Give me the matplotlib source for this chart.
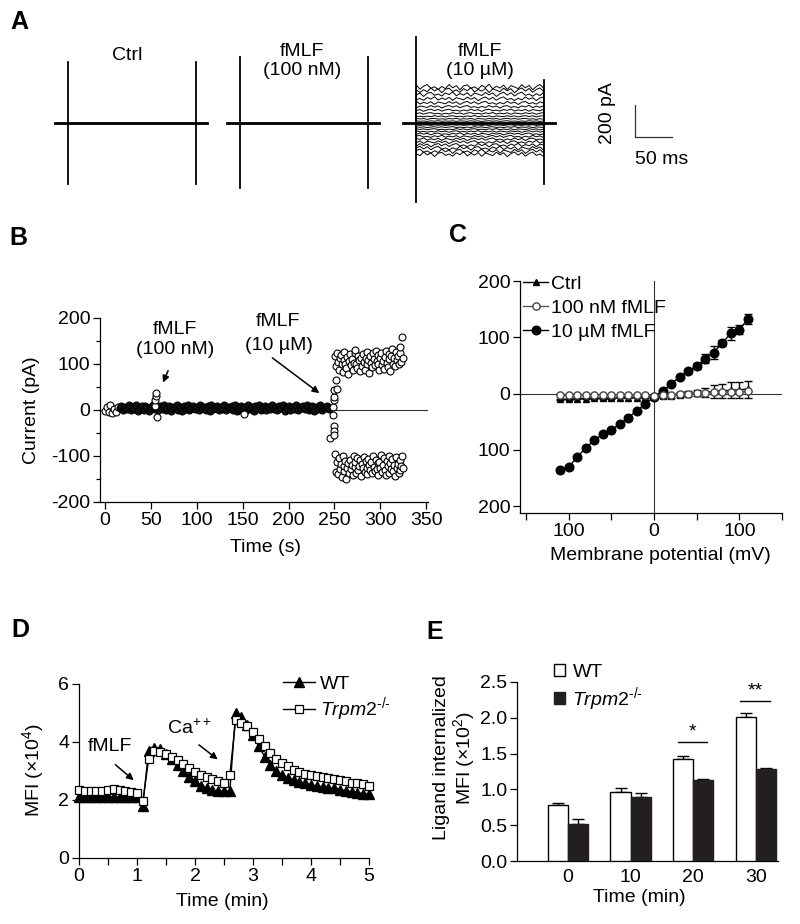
import numpy as np
import matplotlib.pyplot as plt
from matplotlib.lines import Line2D
from matplotlib.patches import Patch

plt.rcParams['font.family'] = ['Liberation Sans', 'DejaVu Sans']
plt.rcParams['mathtext.fontset'] = 'custom'
plt.rcParams['mathtext.rm'] = 'Liberation Sans'
plt.rcParams['mathtext.it'] = 'Liberation Sans:italic'
plt.rcParams['font.size'] = 14
plt.rcParams['axes.linewidth'] = 0.9
plt.rcParams['axes.unicode_minus'] = False

# ---------------- data ----------------
# A: whole-cell current traces (pA), voltage step
a_titles = ['Ctrl', 'fMLF\n(100 nM)', 'fMLF\n(10 µM)']
a_on_spike = [(381, -381), (412, -406), (537, -494)]
a_off_spike = [(381, -381), (412, -406), (269, -381)]
a_sweeps = [-195, -176, -157, -138, -119, -101, -84, -68, -53, -39, -26, -13, 0,
            12, 26, 42, 60, 80, 102, 126, 152, 180, 205, 225]
a_wiggle = [0.2, -0.6, 0.9, -0.3, 0.5, -1.0, 0.4, 0.8, -0.5, 0.1, -0.8, 0.6, -0.2, 1.0,
            -0.7, 0.3, -0.4, 0.7, -0.9, 0.5, 0.0, -0.6, 0.8, -0.3, 0.6, -1.0, 0.2, 0.9,
            -0.4, 0.7, -0.8, 0.3, 0.9, -0.5, 0.1, -0.9]

# B: current vs time (pA)
b_early_v = [-3, 6, -5, 10, -6, 3, -4, 7]
b_base_v = [4, 9, -1, 7, 2, 10, 0, 6, 3, 11, -2, 5, 8, 1, 9, 4, -3, 7, 10, 2,
            6, -1, 8, 3, 11, 0, 5, 9, -2, 7, 4, 10, 1, 6, -3, 8, 3, 11, 0, 5,
            9, 2, 7, -1, 10, 4, 6, 1, 8, -2, 11, 3, 5, 9, 0, 7, 2, 10, -1, 6,
            4, 8, 1, 11, -3, 5, 9, 2, 7, 0, 10, 3, 6, -2, 8, 4, 11, 1, 5, 9,
            -1, 7, 2, 10, 3, 6, 0, 8, 4, 11, -2, 5, 9, 1, 7, 3, 10, -1, 6, 4,
            8, 2, 11, 0, 5, 9, -3, 7, 3, 10, 1, 6, 4, 8, 2]
b_early_t = np.arange(0, 2 * len(b_early_v), 2)
b_base_t = np.arange(2 * len(b_early_v), 2 * (len(b_early_v) + len(b_base_v)), 2)
b_out_t = [54, 55, 56, 56, 57, 152]
b_out_v = [8, 22, 30, 37, -15, -9]
b_tr_t = [245, 248, 248.5, 249.5, 249.5, 249.5, 249.5, 250, 250, 252, 253]
b_tr_v = [-61, 7, -11, 22, -35, -45, -54, 29, 43, 65, 45]
b_up_v = [118, 95, 125, 104, 88, 112, 120, 99, 83, 108, 126, 101, 92, 115, 78, 106, 121, 97, 110, 86,
          103, 124, 131, 100, 91, 117, 108, 84, 112, 96, 122, 105, 88, 114, 127, 99, 109, 80, 118, 102,
          93, 124, 111, 97, 128, 106, 119, 101, 87, 113, 125, 98, 107, 90, 116, 129, 103, 94, 121, 110,
          85, 118, 132, 100, 112, 95, 126, 108, 117, 99, 123, 136, 104, 158, 112]
b_lo_v = [-95, -135, -112, -140, -104, -128, -118, -145, -101, -132, -122, -110, -150, -126, -115,
          -138, -108, -129, -119, -141, -99, -124, -113, -136, -105, -131, -121, -109, -143, -117,
          -127, -102, -134, -111, -125, -139, -106, -120, -130, -114, -137, -100, -123, -133, -108,
          -128, -116, -141, -112, -126, -97, -135, -119, -104, -130, -142, -110, -122, -101, -137,
          -115, -128, -106, -133, -120, -144, -103, -125, -117, -138, -109, -131, -121, -99, -127]
b_band_t = np.arange(251, 251 + len(b_up_v))

# C: I-V relation
c_mv = np.arange(-110, 111, 10)
c_ctrl = [-10, -10, -9, -9, -8, -8, -8, -7, -7, -7, -6, -6, -5, -4, -2, 0, 1, 2, 4, 5, 6, 7, 8]
c_ctrl_err = [1, 1, 1, 1, 1, 1, 1, 1, 1, 1, 1, 1, 2, 3, 4, 5, 6, 8, 12, 12, 14, 14, 15]
c_100nm = [-3, -3, -2, -2, -2, -2, -2, -2, -2, -3, -3, -4, -3, -2, -1, 0, 1, 1, 2, 2, 3, 3, 4]
c_10um = [-135, -130, -113, -96, -83, -72, -64, -54, -43, -30, -18, -6, 5, 17, 30, 40, 49,
          62, 73, 90, 107, 113, 133]
c_10um_err = [3, 3, 3, 3, 3, 3, 3, 3, 3, 3, 3, 3, 3, 3, 3, 4, 5, 8, 12, 6, 12, 8, 9]

# D: MFI (x10^4) over time
d_time = np.linspace(0, 5, 51)
d_wt = [2.1, 2.1, 2.12, 2.12, 2.12, 2.12, 2.1, 2.1, 2.1, 2.1, 2.1, 1.8, 3.7, 3.8, 3.75,
        3.6, 3.4, 3.2, 3.0, 2.8, 2.65, 2.5, 2.4, 2.35, 2.3, 2.3, 2.3, 5.0, 4.85, 4.6, 4.25,
        3.85, 3.5, 3.2, 3.0, 2.85, 2.75, 2.68, 2.62, 2.57, 2.52, 2.48, 2.45, 2.42, 2.4,
        2.36, 2.32, 2.28, 2.25, 2.22, 2.2]
d_ko = [2.35, 2.32, 2.32, 2.32, 2.32, 2.35, 2.38, 2.33, 2.3, 2.27, 2.25, 1.95, 3.4, 3.7,
        3.65, 3.58, 3.5, 3.38, 3.25, 3.1, 2.95, 2.85, 2.78, 2.72, 2.65, 2.6, 2.85, 4.75,
        4.65, 4.55, 4.35, 4.1, 3.85, 3.62, 3.42, 3.28, 3.16, 3.05, 2.97, 2.9, 2.85, 2.82,
        2.78, 2.75, 2.72, 2.68, 2.64, 2.6, 2.57, 2.54, 2.5]

# E: ligand internalized MFI (x10^2)
e_times = ['0', '10', '20', '30']
e_wt = [0.78, 0.96, 1.42, 2.01]
e_wt_err = [0.03, 0.06, 0.04, 0.06]
e_ko = [0.51, 0.90, 1.13, 1.28]
e_ko_err = [0.07, 0.05, 0.01, 0.02]
e_sig = ['', '', '*', '**']
e_sig_y = [0, 0, 1.66, 2.23]

KO_LABEL = r'$\mathit{Trpm2}^{\text{-/-}}$'

# ---------------- layout helpers ----------------
W, H = 800, 924
fig = plt.figure(figsize=(8, 9.24), dpi=100)


def px_axes(left, top, right, bottom):
    return fig.add_axes([left / W, 1 - bottom / H, (right - left) / W, (bottom - top) / H])


def ftext(x, y, s, **kw):
    kw.setdefault('ha', 'center')
    kw.setdefault('va', 'center')
    return fig.text(x / W, 1 - y / H, s, **kw)


def style(ax):
    for side in ['top', 'right']:
        ax.spines[side].set_visible(False)
    ax.tick_params(direction='out', length=5, width=0.9, pad=2, labelsize=14)


for letter, x, y in [('A', 19, 22), ('B', 18, 238), ('C', 458, 235), ('D', 20, 630), ('E', 435, 632)]:
    ftext(x, y, letter, fontsize=18, fontweight='bold')

# ---------------- A ----------------
MS_PER_PX = 50 / 37
PA_PER_PX = 200 / 32
A_PRE, A_STEP, A_POST = 18, 172, 15
ax_a = px_axes(0, 0, W, 210)
ax_a.set_xlim(0, W * MS_PER_PX)
ax_a.set_ylim(-(210 - 123) * PA_PER_PX, 123 * PA_PER_PX)
ax_a.axis('off')
a_starts = [55, 227, 403]
a_title_x = [127, 302, 480]
for i, x_px in enumerate(a_starts):
    x0 = x_px * MS_PER_PX
    on_t = x0 + A_PRE
    off_t = on_t + A_STEP
    if i == 2:
        tt = on_t + np.linspace(0, A_STEP, len(a_wiggle))
        for j, lev in enumerate(a_sweeps):
            yy = lev + np.roll(a_wiggle, 5 * j) * (0.07 * abs(lev) + 1.5)
            ax_a.plot(np.r_[on_t, tt, off_t], np.r_[0, yy, 0], color='black', lw=0.7)
    ax_a.plot([x0, off_t + A_POST], [0, 0], color='black', lw=2.0)
    ax_a.plot([on_t, on_t], a_on_spike[i], color='black', lw=1.3)
    ax_a.plot([off_t, off_t], a_off_spike[i], color='black', lw=1.3)
    ftext(a_title_x[i], 55 if i == 0 else 61, a_titles[i], linespacing=1.15)

# scale bar
ax_a.plot([635 * MS_PER_PX, 635 * MS_PER_PX, 672 * MS_PER_PX],
          [(123 - 105) * PA_PER_PX, (123 - 137) * PA_PER_PX, (123 - 137) * PA_PER_PX],
          color='#333333', lw=0.9)
ftext(608, 113, '200 pA', rotation=90)
ftext(662, 160, '50 ms')

# ---------------- B ----------------
ax_b = px_axes(100, 318, 428, 502)
style(ax_b)
ax_b.set_xlim(-5.4, 352)
ax_b.set_ylim(-200, 200)
ax_b.axhline(0, color='#333333', lw=0.8, zorder=1)
mk = dict(ls='none', marker='o', ms=5, mec='black', clip_on=False, zorder=3)
ax_b.plot(b_early_t, b_early_v, mfc='white', mew=0.8, **mk)
ax_b.plot(b_base_t, b_base_v, mfc='#111111', mew=0.8, **mk)
ax_b.plot(b_out_t, b_out_v, mfc='white', mew=0.8, **mk)
ax_b.plot(b_tr_t, b_tr_v, mfc='white', mew=0.8, **mk)
ax_b.plot(b_band_t, b_up_v, mfc='white', mew=0.8, **mk)
ax_b.plot(b_band_t, b_lo_v, mfc='white', mew=0.8, **mk)
ax_b.set_xticks(np.arange(0, 351, 50))
ax_b.set_yticks(np.arange(-200, 201, 100))
ax_b.set_yticks(np.arange(-150, 151, 100), minor=True)
ax_b.tick_params(which='minor', direction='out', length=3, width=0.9)
ax_b.text(76, 174, 'fMLF', ha='center', va='center', fontsize=14)
ax_b.text(76, 132, '(100 nM)', ha='center', va='center', fontsize=14)
ax_b.annotate('', xy=(62, 54), xytext=(70, 91),
              arrowprops=dict(arrowstyle='-|>', color='black', lw=1.1, mutation_scale=10))
ax_b.text(188, 193, 'fMLF', ha='center', va='center', fontsize=14)
ax_b.text(190, 141, '(10 µM)', ha='center', va='center', fontsize=14)
ax_b.annotate('', xy=(236, 33), xytext=(180, 117),
              arrowprops=dict(arrowstyle='-|>', color='black', lw=1.1, mutation_scale=10))
ftext(32, 410, 'Current (pA)', rotation=90)
ftext(265, 547, 'Time (s)')

# ---------------- C ----------------
ax_c = px_axes(520, 281, 782, 513)
style(ax_c)
ax_c.set_xlim(-157, 150)
ax_c.set_ylim(-212, 200)
ax_c.axhline(0, color='#333333', lw=0.8, zorder=1)
ax_c.axvline(0, color='#333333', lw=0.8, zorder=1)
ax_c.errorbar(c_mv, c_10um, yerr=c_10um_err, color='black', marker='o', ms=6.2,
              lw=1, capsize=3, elinewidth=1, zorder=3)
ax_c.errorbar(c_mv, c_ctrl, yerr=c_ctrl_err, color='black', marker='^', ms=5,
              lw=1, capsize=3, elinewidth=1, zorder=4)
ax_c.errorbar(c_mv, c_100nm, yerr=1, color='#555555', marker='o', ms=5.2, mfc='white',
              mec='#444444', lw=1, capsize=2, elinewidth=0.8, zorder=5)
ax_c.set_xticks([-150, -100, -50, 0, 50, 100, 150])
ax_c.set_xticklabels(['', '100', '', '0', '', '100', ''])
ax_c.set_yticks([-200, -100, 0, 100, 200])
ax_c.set_yticklabels(['200', '100', '0', '100', '200'])
c_handles = [
    Line2D([], [], color='black', marker='^', ms=5, lw=1),
    Line2D([], [], color='#555555', marker='o', ms=5.2, mfc='white', mec='#444444', lw=1),
    Line2D([], [], color='black', marker='o', ms=6.2, lw=1),
]
ax_c.legend(c_handles, ['Ctrl', '100 nM fMLF', '10 µM fMLF'], loc='upper left',
            bbox_to_anchor=(523 / W, 1 - 275 / H), bbox_transform=fig.transFigure,
            frameon=False, borderpad=0, borderaxespad=0, handlelength=1.3,
            handletextpad=0.15, labelspacing=0.34, fontsize=14)
ftext(660, 555, 'Membrane potential (mV)')

# ---------------- D ----------------
ax_d = px_axes(79, 684, 369, 858)
style(ax_d)
ax_d.set_xlim(0, 5)
ax_d.set_ylim(0, 6)
ax_d.plot(d_time, d_wt, color='black', marker='^', ms=6.5, lw=1, clip_on=False, zorder=3)
ax_d.plot(d_time, d_ko, color='black', marker='s', ms=6, mfc='white', mew=0.9, lw=1,
          clip_on=False, zorder=4)
ax_d.set_xticks(np.arange(0, 6, 1))
ax_d.set_xticks(np.arange(0.5, 5, 1), minor=True)
ax_d.tick_params(which='minor', direction='out', length=5, width=0.9)
ax_d.set_yticks([0, 2, 4, 6])
ax_d.annotate('', xy=(0.98, 2.62), xytext=(0.59, 3.28),
              arrowprops=dict(arrowstyle='-|>', color='black', lw=1.1, mutation_scale=10))
ax_d.text(0.53, 3.83, 'fMLF', ha='center', va='center', fontsize=14)
ax_d.annotate('', xy=(2.43, 3.34), xytext=(2.03, 3.96),
              arrowprops=dict(arrowstyle='-|>', color='black', lw=1.1, mutation_scale=10))
ax_d.text(1.91, 4.48, 'Ca$^{++}$', ha='center', va='center', fontsize=14)
d_handles = [
    Line2D([], [], color='black', marker='^', ms=6.5, lw=1),
    Line2D([], [], color='black', marker='s', ms=6, mfc='white', mew=0.9, lw=1),
]
ax_d.legend(d_handles, ['WT', KO_LABEL], loc='upper left',
            bbox_to_anchor=(283 / W, 1 - 675 / H), bbox_transform=fig.transFigure,
            frameon=False, borderpad=0, borderaxespad=0, handlelength=1.65,
            handletextpad=0.25, labelspacing=0.15, fontsize=14)
ftext(33, 770, 'MFI (×10$^4$)', rotation=90)
ftext(222, 902, 'Time (min)')

# ---------------- E ----------------
ax_e = px_axes(517, 682, 778, 861)
style(ax_e)
ax_e.set_xlim(-0.81, 3.35)
ax_e.set_ylim(0, 2.5)
xg = np.arange(len(e_times))
bw = 0.32
ax_e.bar(xg - bw / 2, e_wt, bw, color='white', edgecolor='black', lw=1, zorder=3)
ax_e.bar(xg + bw / 2, e_ko, bw, color='#231f20', edgecolor='#231f20', lw=1, zorder=3)
ax_e.errorbar(xg - bw / 2, e_wt, yerr=[np.zeros(4), e_wt_err], fmt='none', ecolor='black',
              elinewidth=1, capsize=4, capthick=1, zorder=2)
ax_e.errorbar(xg + bw / 2, e_ko, yerr=[np.zeros(4), e_ko_err], fmt='none', ecolor='black',
              elinewidth=1, capsize=4, capthick=1, zorder=2)
for g, (s, y) in enumerate(zip(e_sig, e_sig_y)):
    if s:
        ax_e.plot([g - 0.25, g + 0.22], [y, y], color='black', lw=1)
        ax_e.text(g - 0.02, y + 0.02, s, ha='center', va='bottom', fontsize=14)
ax_e.set_xticks(xg)
ax_e.set_xticklabels(e_times)
ax_e.tick_params(axis='x', length=0, pad=6)
ax_e.set_yticks(np.arange(0, 2.51, 0.5))
ax_e.set_yticklabels(['%.1f' % v for v in np.arange(0, 2.51, 0.5)])
e_handles = [Patch(facecolor='white', edgecolor='black', lw=1),
             Patch(facecolor='#231f20', edgecolor='#231f20', lw=1)]
ax_e.legend(e_handles, ['WT', KO_LABEL], loc='upper left',
            bbox_to_anchor=(554 / W, 1 - 664 / H), bbox_transform=fig.transFigure,
            frameon=False, borderpad=0, borderaxespad=0, handlelength=0.55,
            handleheight=0.55, handletextpad=0.4, labelspacing=0.19, fontsize=14)
ftext(455, 758, 'Ligand internalized\nMFI (×10$^2$)', rotation=90, linespacing=1.1)
ftext(639, 898, 'Time (min)')

fig.savefig('out.png', dpi=100)
